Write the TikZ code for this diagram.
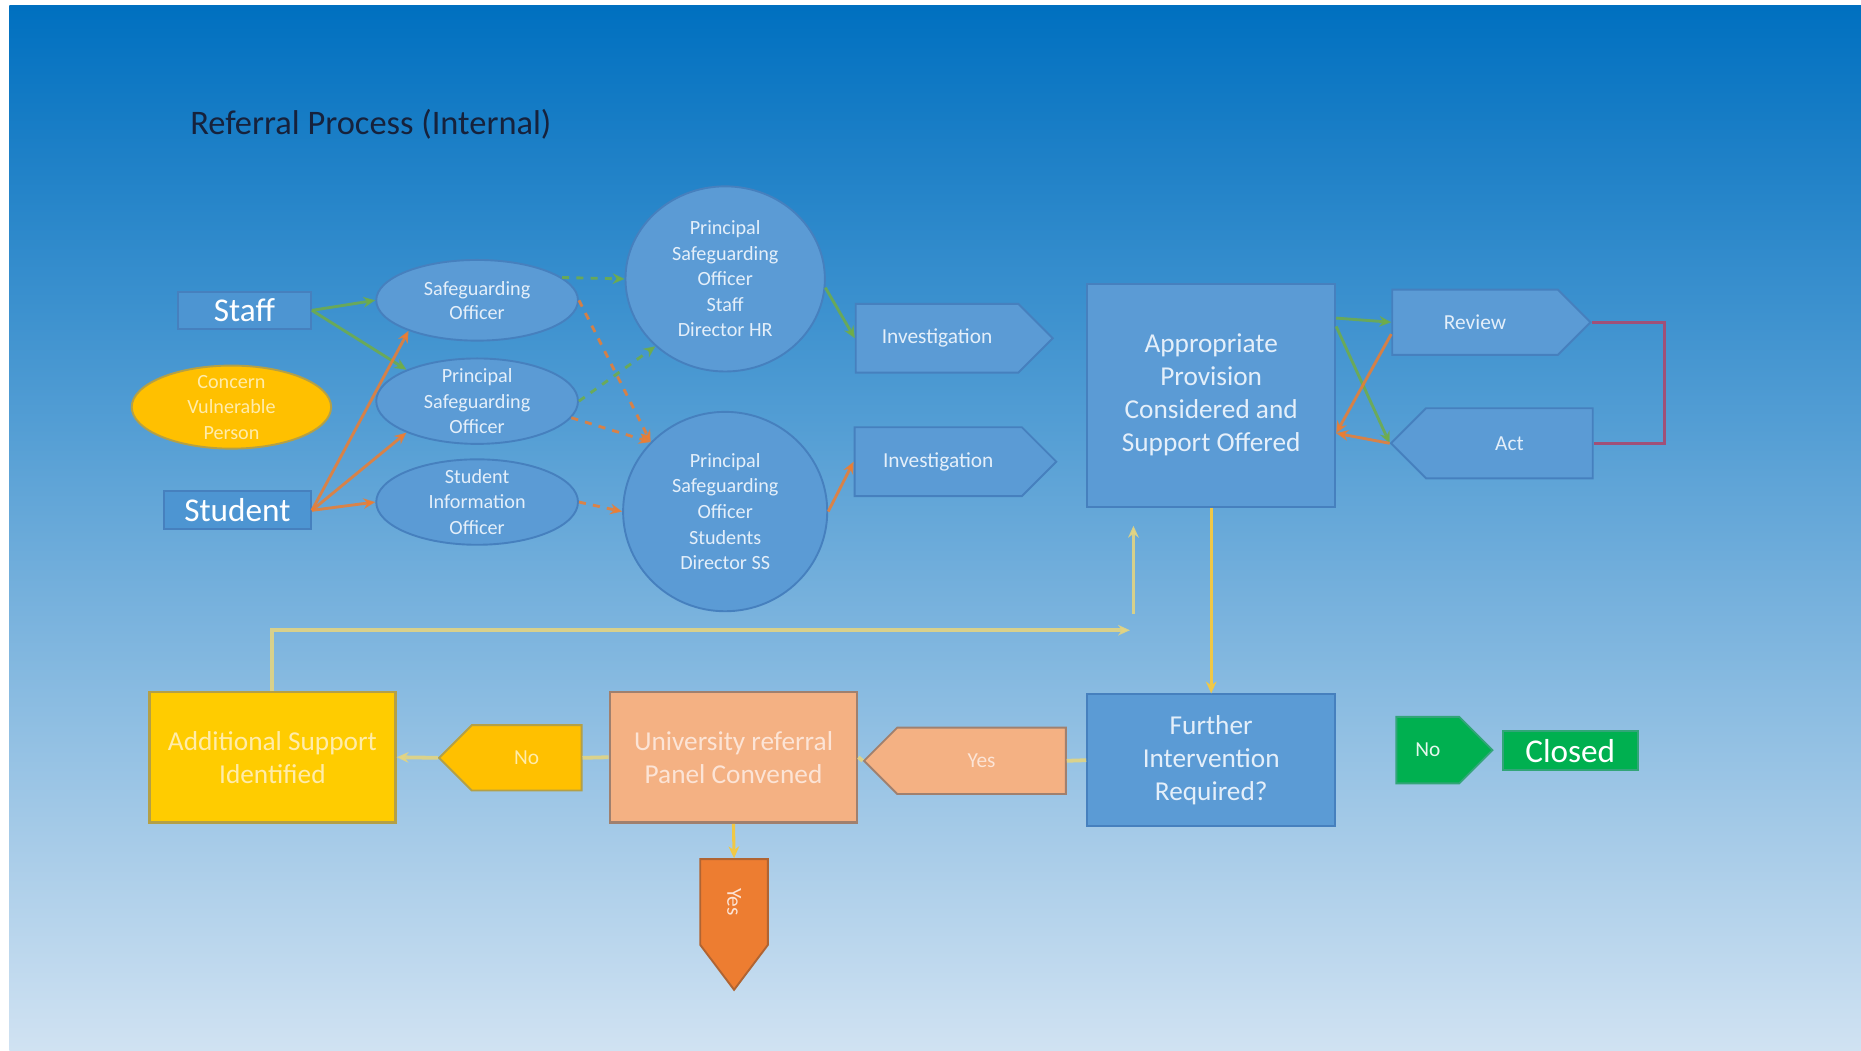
\documentclass[tikz,border=0pt]{standalone}
\usepackage{fontspec}
\setmainfont{Carlito}
\usepackage{xcolor}
\usetikzlibrary{positioning,calc}
\usetikzlibrary{shapes.geometric,shapes.symbols,arrows.meta}
\definecolor{bgtop}{RGB}{0, 112, 192}
\definecolor{bgbot}{RGB}{208, 226, 242}
\definecolor{theme}{RGB}{91, 155, 213}
\definecolor{themeline}{RGB}{70, 128, 190}
\definecolor{titletext}{RGB}{22, 34, 60}
\definecolor{lighttext}{RGB}{228, 239, 250}
\definecolor{amber}{RGB}{255, 192, 0}
\definecolor{gold}{RGB}{255, 204, 0}
\definecolor{olive}{RGB}{180, 160, 70}
\definecolor{paletext}{RGB}{255, 236, 170}
\definecolor{salmon}{RGB}{244, 177, 131}
\definecolor{salmonline}{RGB}{160, 128, 110}
\definecolor{salmontext}{RGB}{252, 228, 214}
\definecolor{rust}{RGB}{237, 125, 49}
\definecolor{rustline}{RGB}{176, 100, 50}
\definecolor{leaf}{RGB}{0, 176, 80}
\definecolor{leafline}{RGB}{50, 165, 120}
\definecolor{greenln}{RGB}{112, 173, 71}
\definecolor{orangeln}{RGB}{237, 125, 49}
\definecolor{yellowln}{RGB}{240, 200, 70}
\definecolor{paleln}{RGB}{226, 212, 130}
\definecolor{plum}{RGB}{160, 80, 120}

\tikzset{
  >={Stealth[length=5pt,width=4.5pt]},
  bluebox/.style={draw=themeline, line width=0.8pt, fill=theme, text=lighttext,
    align=center, inner sep=0pt, font=\fontsize{11.5}{13.9}\selectfont},
  blueoval/.style={ellipse, draw=themeline, line width=0.8pt, fill=theme, text=lighttext,
    align=center, inner sep=-4pt, font=\fontsize{8.5}{10.75}\selectfont},
  bluetag/.style={signal, draw=themeline, line width=0.8pt, fill=theme, text=lighttext,
    inner sep=0pt, font=\fontsize{9}{11}\selectfont},
  whotag/.style={draw=themeline, line width=0.8pt, fill=theme!85!bgtop, text=white,
    inner sep=0pt, font=\fontsize{14}{16}\selectfont},
  greenlink/.style={->, draw=greenln, line width=1.2pt, draw opacity=0.85},
  orangelink/.style={->, draw=orangeln, line width=1.2pt, draw opacity=0.85},
  yellowlink/.style={->, draw=yellowln, line width=1.3pt},
  palelink/.style={->, draw=paleln, line width=1.6pt, draw opacity=0.9}
}

\begin{document}
\begin{tikzpicture}[x=0.5pt, y=-0.5pt]
      \useasboundingbox (0,0) rectangle (1568,884.7);
      \fill[white] (0,0) rectangle (1568,884.7);
      \shade[top color=bgtop, bottom color=bgbot] (8,5) rectangle (1568,884.7);

      \node[anchor=west, inner sep=0pt, text=titletext, font=\fontsize{14.5}{17}\selectfont] (title) at (160,105) {Referral Process (Internal)};

      \node[whotag, minimum width=56pt, minimum height=15.5pt] (staff) at (206,261.5) {Staff};
      \node[whotag, minimum width=62pt, minimum height=16pt] (student) at (200,430) {Student};
      \node[blueoval, fill=amber, draw=olive, text=paletext, minimum width=84pt, minimum height=35pt] (concern) at (195,343) {Concern\\Vulnerable\\Person};

      \node[blueoval, minimum width=85pt, minimum height=34pt, font=\fontsize{8.5}{10}\selectfont] (so) at (402,253) {Safeguarding\\Officer};
      \node[blueoval, minimum width=85pt, minimum height=36pt] (pso) at (402,338) {Principal\\Safeguarding\\Officer};
      \node[blueoval, minimum width=85pt, minimum height=36pt] (sio) at (402,423) {Student\\Information\\Officer};

      \node[blueoval, minimum width=84pt, minimum height=78pt] (psostaff) at (611,235) {Principal\\Safeguarding\\Officer\\Staff\\Director HR};
      \node[blueoval, minimum width=86pt, minimum height=84pt] (psostud) at (611,431) {Principal\\Safeguarding\\Officer\\Students\\Director SS};

      \node[bluetag, signal to=east, minimum width=83pt, minimum height=29pt] (inv1) at (789.5,285) {Investigation};
      \node[bluetag, signal to=east, minimum width=85pt, minimum height=29pt] (inv2) at (790.5,389) {Investigation};

      \node[bluebox, minimum width=104.5pt, minimum height=94pt] (app) at (1020.5,333) {Appropriate\\Provision\\Considered and\\Support Offered};
      \node[bluetag, signal to=east, minimum width=83.5pt, minimum height=27.5pt] (review) at (1242.75,271.5) {Review};
      \node[bluetag, signal to=west, minimum width=85pt, minimum height=29.5pt] (act) at (1271.75,373.5) {Act};

      \node[bluebox, minimum width=104.5pt, minimum height=55.5pt] (fir) at (1020.5,640.5) {Further\\Intervention\\Required?};
      \node[bluetag, signal to=west, fill=salmon, draw=salmonline, text=salmontext, minimum width=85pt, minimum height=28pt] (yes) at (827,641) {Yes};
      \node[bluebox, fill=salmon, draw=salmonline, line width=1.2pt, text=salmontext, minimum width=104pt, minimum height=55pt] (univ) at (618,638) {University referral\\Panel Convened};
      \node[bluetag, signal to=west, fill=amber, draw=olive, text=paletext, minimum width=60pt, minimum height=27.5pt] (no) at (443.75,638.5) {No};
      \node[bluebox, fill=gold, draw=olive, line width=1.2pt, text=paletext, minimum width=103.5pt, minimum height=55pt] (add) at (229.5,638) {Additional Support\\Identified};
      \node[bluetag, signal to=south, signal pointer angle=74, fill=rust, draw=rustline, text=salmontext, minimum width=28.5pt, minimum height=40pt] (yesdown) at (618.5,760) {\rotatebox{-90}{Yes}};

      \node[bluetag, signal to=east, fill=leaf, draw=leafline, text=white!90!leaf, minimum width=40.5pt, minimum height=28pt] (gno) at (1203,632) {No};
      \node[bluebox, fill=leaf, draw=leafline, text=white, font=\fontsize{14}{16}\selectfont, minimum width=57pt, minimum height=16.5pt] (closed) at (1323,632.5) {Closed};

      \draw[greenlink] (staff.east) -- (so.west);
      \draw[greenlink] (staff.east) -- (pso.156);
      \draw[orangelink] (student.east) -- (so.204);
      \draw[orangelink] (student.east) -- (pso.204);
      \draw[orangelink] (student.east) -- (sio.west);

      \draw[greenlink, dashed] (so.15) -- (psostaff.west);
      \draw[orangelink, dashed] (so.east) -- (psostud.137);
      \draw[greenlink, dashed] (pso.east) -- (psostaff.224);
      \draw[orangelink, dashed] (pso.-10) -- (psostud.137);
      \draw[orangelink, dashed] (sio.east) -- (psostud.west);

      \draw[greenlink] (psostaff.-5) -- (inv1.west);
      \draw[orangelink] (psostud.east) -- (inv2.west);

      \draw[greenlink] ($(app.east)+(0,-65)$) -- (review.west);
      \draw[greenlink] ($(app.east)+(0,-58)$) -- (act.west);
      \draw[orangelink] ($(review.west)+(0,10)$) -- ($(app.east)+(0,32)$);
      \draw[orangelink] (act.west) -- ($(app.east)+(0,32)$);
      \draw[plum, line width=1.2pt] (review.east) -- ++(61,0) |- (act.east);

      \coordinate (backin) at (952,531);
      \coordinate (backup) at (955,517);
      \coordinate (backtop) at (955,443);

      \draw[yellowlink] (app.south) -- (fir.north);
      \draw[palelink] (add.north) |- (backin);
      \draw[palelink] (backup) -- (backtop);
      \draw[palelink, -] (fir.west) -- (yes.east);
      \draw[palelink, -] (yes.west) -- (univ.east);
      \draw[palelink, -] (univ.west) -- (no.east);
      \draw[palelink] (no.west) -- (add.east);
      \draw[yellowlink] (univ.south) -- (yesdown.north);

    \end{tikzpicture}
\end{document}
